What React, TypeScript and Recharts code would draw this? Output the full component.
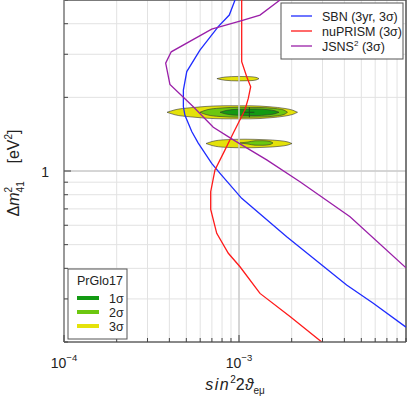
import React from 'react';
import {
  ComposedChart, Line, Area, Scatter, XAxis, YAxis, CartesianGrid, ReferenceLine, Legend,
} from 'recharts';

// ---- axis ticks ----
const xTicks = [1e-4, 2e-4, 3e-4, 4e-4, 5e-4, 6e-4, 7e-4, 8e-4, 9e-4,
  1e-3, 2e-3, 3e-3, 4e-3, 5e-3, 6e-3, 7e-3, 8e-3, 9e-3];
const xMajor = [1e-4, 1e-3];
const xMajorExp = ['\u22124', '\u22123'];
const yTicks = [0.2, 0.3, 0.4, 0.5, 0.6, 0.7, 0.8, 0.9, 1, 2, 3, 4, 5];
const yMajor = [1];
const yMajorLabel = ['1'];

// ---- sensitivity curves (x = sin^2 2theta, y = dm^2) ----
const sbn = [
  { x: 9.49e-4, y: 5.0 }, { x: 8.8e-4, y: 4.34 }, { x: 7.61e-4, y: 3.89 },
  { x: 5.98e-4, y: 3.12 }, { x: 5.03e-4, y: 2.55 }, { x: 4.81e-4, y: 2.14 },
  { x: 4.81e-4, y: 1.83 }, { x: 4.91e-4, y: 1.69 }, { x: 5.37e-4, y: 1.45 },
  { x: 5.85e-4, y: 1.30 }, { x: 6.98e-4, y: 1.075 }, { x: 7.79e-4, y: 0.978 },
  { x: 1.036e-3, y: 0.773 }, { x: 1.873e-3, y: 0.539 }, { x: 2.9e-3, y: 0.419 },
  { x: 4.12e-3, y: 0.342 }, { x: 5.85e-3, y: 0.288 }, { x: 9.0e-3, y: 0.230 },
];
const nuprism = [
  { x: 1.036e-3, y: 5.0 }, { x: 1.036e-3, y: 2.80 }, { x: 1.107e-3, y: 2.43 },
  { x: 1.166e-3, y: 2.21 }, { x: 1.13e-3, y: 1.98 }, { x: 1.082e-3, y: 1.78 },
  { x: 9.28e-4, y: 1.43 }, { x: 8.32e-4, y: 1.22 }, { x: 7.29e-4, y: 1.01 },
  { x: 6.89e-4, y: 0.823 }, { x: 6.89e-4, y: 0.697 }, { x: 7.46e-4, y: 0.556 },
  { x: 8.69e-4, y: 0.461 }, { x: 1.013e-3, y: 0.406 }, { x: 1.318e-3, y: 0.316 },
  { x: 1.956e-3, y: 0.254 }, { x: 2.97e-3, y: 0.2 },
];
const jsns = [
  { x: 1.715e-3, y: 5.0 }, { x: 1.318e-3, y: 4.34 }, { x: 1.036e-3, y: 4.12 },
  { x: 6.98e-4, y: 3.80 }, { x: 4.10e-4, y: 3.07 }, { x: 3.81e-4, y: 2.76 },
  { x: 4.03e-4, y: 2.26 }, { x: 5.48e-4, y: 1.83 }, { x: 7.13e-4, y: 1.51 },
  { x: 9.28e-4, y: 1.34 }, { x: 1.44e-3, y: 1.11 }, { x: 2.23e-3, y: 0.904 },
  { x: 4.31e-3, y: 0.650 }, { x: 9.0e-3, y: 0.402 },
];

// ---- PrGlo17 allowed regions: x with [low, high] dm^2 ----
const main3 = [
  { x: 3.88e-4, r: [1.738, 1.738] }, { x: 4.31e-4, r: [1.697, 1.779] },
  { x: 5.25e-4, r: [1.665, 1.813] }, { x: 6.39e-4, r: [1.645, 1.835] },
  { x: 8.32e-4, r: [1.634, 1.848] }, { x: 1.156e-3, r: [1.634, 1.848] },
  { x: 1.503e-3, r: [1.650, 1.830] }, { x: 1.832e-3, r: [1.677, 1.801] },
  { x: 2.035e-3, r: [1.705, 1.771] }, { x: 2.159e-3, r: [1.738, 1.738] },
];
const main2 = [
  { x: 5.98e-4, r: [1.738, 1.738] }, { x: 6.56e-4, r: [1.697, 1.779] },
  { x: 7.79e-4, r: [1.670, 1.808] }, { x: 1.013e-3, r: [1.658, 1.822] },
  { x: 1.318e-3, r: [1.661, 1.818] }, { x: 1.606e-3, r: [1.677, 1.801] },
  { x: 1.808e-3, r: [1.702, 1.774] }, { x: 1.892e-3, r: [1.738, 1.738] },
];
const main1 = [
  { x: 7.79e-4, r: [1.738, 1.738] }, { x: 8.43e-4, r: [1.709, 1.767] },
  { x: 9.87e-4, r: [1.689, 1.788] }, { x: 1.234e-3, r: [1.684, 1.793] },
  { x: 1.464e-3, r: [1.696, 1.781] }, { x: 1.606e-3, r: [1.714, 1.762] },
  { x: 1.693e-3, r: [1.738, 1.738] },
];
const low3 = [
  { x: 6.48e-4, r: [1.295, 1.295] }, { x: 7.01e-4, r: [1.271, 1.320] },
  { x: 8.32e-4, r: [1.250, 1.342] }, { x: 1.082e-3, r: [1.244, 1.349] },
  { x: 1.408e-3, r: [1.250, 1.342] }, { x: 1.715e-3, r: [1.262, 1.330] },
  { x: 1.905e-3, r: [1.277, 1.314] }, { x: 2.009e-3, r: [1.295, 1.295] },
];
const low2 = [
  { x: 1.013e-3, r: [1.302, 1.302] }, { x: 1.126e-3, r: [1.289, 1.314] },
  { x: 1.234e-3, r: [1.275, 1.329] }, { x: 1.372e-3, r: [1.274, 1.330] },
  { x: 1.503e-3, r: [1.283, 1.320] }, { x: 1.564e-3, r: [1.302, 1.302] },
];
const top3 = [
  { x: 7.48e-4, r: [2.385, 2.385] }, { x: 8.32e-4, r: [2.349, 2.421] },
  { x: 9.87e-4, r: [2.335, 2.435] }, { x: 1.156e-3, r: [2.340, 2.430] },
  { x: 1.251e-3, r: [2.355, 2.414] }, { x: 1.301e-3, r: [2.385, 2.385] },
];
const bestFit = [{ x: 1.146e-3, y: 1.738 }];

const curveNames = ['SBN (3yr, 3\u03c3)', 'nuPRISM (3\u03c3)', 'JSNS'];
const sigmaNames = ['1\u03c3', '2\u03c3', '3\u03c3'];

const C_BLUE = '#1f2cff';
const C_RED = '#ff1a1a';
const C_PURPLE = '#9a1fa8';
const C_1S = '#139a13';
const C_2S = '#6cc70f';
const C_3S = '#e4e20a';
const FONT = 'Liberation Sans, Arial, Helvetica, sans-serif';

const isIn = (arr: number[], v: number) => arr.findIndex((m) => Math.abs(m - v) / m < 1e-6);

const XTick = (props: any) => {
  const { x, y, payload } = props;
  const idx = isIn(xMajor, payload.value);
  const major = idx >= 0;
  return (
    <g>
      <line x1={x} x2={x} y1={y} y2={y - (major ? 7 : 4)} stroke="#444" strokeWidth={1} />
      {major && (
        <text x={x} y={y + 26} textAnchor="middle" fontSize={14} fill="#222" fontFamily={FONT}>
          10<tspan dy={-7} fontSize={9.5}>{xMajorExp[idx]}</tspan>
        </text>
      )}
    </g>
  );
};

const YTick = (props: any) => {
  const { x, y, payload } = props;
  const idx = isIn(yMajor, payload.value);
  const major = idx >= 0;
  return (
    <g>
      <line x1={x} x2={x + (major ? 7 : 4)} y1={y} y2={y} stroke="#444" strokeWidth={1} />
      {major && (
        <text x={x - 15} y={y + 5.5} textAnchor="end" fontSize={14} fill="#222" fontFamily={FONT}>
          {yMajorLabel[idx]}
        </text>
      )}
    </g>
  );
};

const XTitle = () => (
  <text x={235} y={390} textAnchor="middle" fontSize={16} fill="#222" fontFamily={FONT}>
    <tspan fontStyle="italic" letterSpacing={1.5}>sin</tspan>
    <tspan dy={-7} fontSize={10}>2</tspan>
    <tspan dy={7}>2</tspan>
    <tspan fontStyle="italic">{'\u03d1'}</tspan>
    <tspan dy={4} fontSize={10}>e{'\u03bc'}</tspan>
  </text>
);

const YTitle = () => (
  <text x={19} y={173} transform="rotate(-90 19 173)" textAnchor="middle" fontSize={16} fill="#222" fontFamily={FONT}>
    <tspan>{'\u0394'}</tspan>
    <tspan fontStyle="italic">m</tspan>
    <tspan dy={-7} fontSize={10}>2</tspan>
    <tspan dx={-5.5} dy={12} fontSize={10}>41</tspan>
    <tspan dy={-5} xmlSpace="preserve">{'    [eV'}</tspan>
    <tspan dy={-7} fontSize={10}>2</tspan>
    <tspan dy={7}>]</tspan>
  </text>
);

const BestFitShape = (props: any) => {
  const { cx, cy } = props;
  return (
    <g stroke="#1d4d1d" strokeWidth={1}>
      <line x1={cx - 5} x2={cx + 5} y1={cy} y2={cy} />
      <line x1={cx} x2={cx} y1={cy - 5} y2={cy + 5} />
    </g>
  );
};

const LegendContent = () => {
  const curveColors = [C_BLUE, C_RED, C_PURPLE];
  const sigmaColors = [C_1S, C_2S, C_3S];
  return (
    <svg width={407} height={396} style={{ position: 'absolute', left: 0, top: 0 }}>
      <rect x={281} y={3} width={122} height={56} fill="#fff" stroke="#555" strokeWidth={1} />
      {curveNames.map((n, i) => (
        <g key={n}>
          <line x1={291} x2={312} y1={16 + i * 15} y2={16 + i * 15} stroke={curveColors[i]} strokeWidth={1.3} />
          <text x={322} y={20.5 + i * 15} fontSize={12.5} fill="#222" fontFamily={FONT}>
            {n}
            {i === 2 && (
              <>
                <tspan dy={-5} fontSize={8}>2</tspan>
                <tspan dy={5}>{' (3\u03c3)'}</tspan>
              </>
            )}
          </text>
        </g>
      ))}
      <rect x={68} y={269} width={59} height={70} fill="#fff" stroke="#555" strokeWidth={1} />
      <text x={77} y={284.5} fontSize={12.5} fill="#222" fontFamily={FONT}>PrGlo17</text>
      {sigmaNames.map((n, i) => (
        <g key={n}>
          <line x1={77} x2={99} y1={298 + i * 14} y2={298 + i * 14} stroke={sigmaColors[i]} strokeWidth={4} />
          <text x={109} y={302.5 + i * 14} fontSize={12.5} fill="#222" fontFamily={FONT}>{n}</text>
        </g>
      ))}
    </svg>
  );
};

export default function App() {
  const areaProps = { type: 'monotone' as const, dataKey: 'r', stroke: '#333', strokeWidth: 0.6, fillOpacity: 1, isAnimationActive: false, dot: false, activeDot: false };
  return (
    <div style={{ position: 'absolute', left: 0, top: 0, width: 407, height: 396, background: '#fff' }}>
      <ComposedChart width={407} height={396} margin={{ top: 0, right: 1, bottom: 0, left: 0 }}>
        <CartesianGrid stroke="#e2e2e2" strokeWidth={1} />
        <XAxis
          dataKey="x" type="number" scale="log" domain={[1e-4, 9e-3]} allowDataOverflow
          ticks={xTicks} interval={0} height={54} tickSize={0} tickMargin={0} tickLine={false}
          tick={<XTick />} axisLine={{ stroke: '#666', strokeWidth: 1.5 }}
          label={<XTitle />}
        />
        <YAxis
          dataKey="y" type="number" scale="log" domain={[0.2, 5]} allowDataOverflow
          ticks={yTicks} interval={0} width={64} tickSize={0} tickMargin={0} tickLine={false}
          tick={<YTick />} axisLine={{ stroke: '#999', strokeWidth: 2 }}
          label={<YTitle />}
        />
        <ReferenceLine x={1e-3} stroke="#cccccc" strokeWidth={1.5} />
        <ReferenceLine y={1} stroke="#cccccc" strokeWidth={1.5} />
        <ReferenceLine y={5} stroke="#555" strokeWidth={1.5} />
        <ReferenceLine x={9e-3} stroke="#555" strokeWidth={1.5} />

        <Area {...areaProps} data={top3} fill={C_3S} />
        <Area {...areaProps} data={main3} fill={C_3S} />
        <Area {...areaProps} data={main2} fill={C_2S} />
        <Area {...areaProps} data={main1} fill={C_1S} />
        <Area {...areaProps} data={low3} fill={C_3S} />
        <Area {...areaProps} data={low2} fill={C_2S} />
        <Scatter data={bestFit} dataKey="y" shape={<BestFitShape />} isAnimationActive={false} />

        <Line data={sbn} dataKey="y" type="linear" stroke={C_BLUE} strokeWidth={1.3} dot={false} activeDot={false} isAnimationActive={false} />
        <Line data={nuprism} dataKey="y" type="linear" stroke={C_RED} strokeWidth={1.3} dot={false} activeDot={false} isAnimationActive={false} />
        <Line data={jsns} dataKey="y" type="linear" stroke={C_PURPLE} strokeWidth={1.3} dot={false} activeDot={false} isAnimationActive={false} />

        <Legend
          layout="horizontal" verticalAlign="middle" align="center"
          wrapperStyle={{ position: 'absolute', left: 0, top: 0, width: 407, height: 396, pointerEvents: 'none' }}
          content={<LegendContent />}
        />
      </ComposedChart>
    </div>
  );
}
